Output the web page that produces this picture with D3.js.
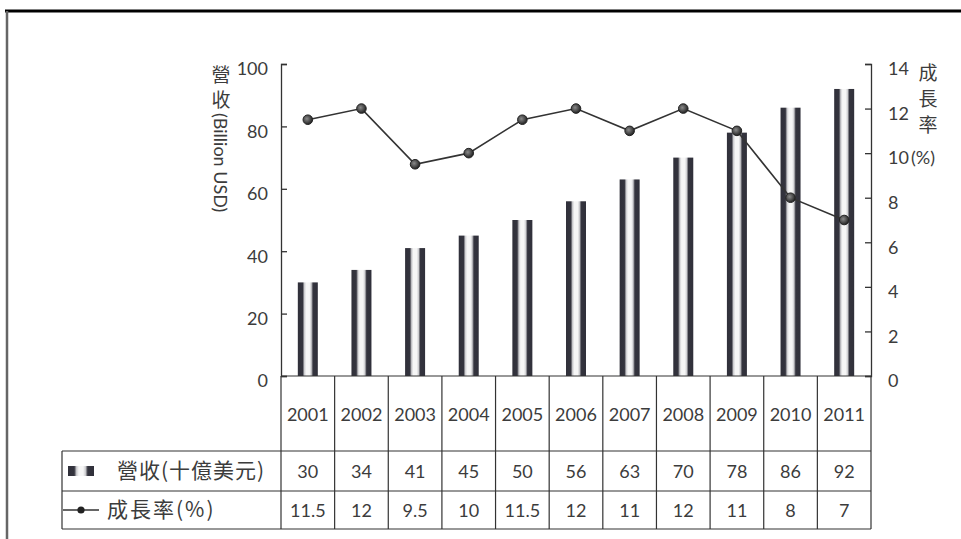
<!DOCTYPE html>
<html>
<head>
<meta charset="utf-8">
<script src="https://cdn.jsdelivr.net/npm/d3@7"></script>
<style>
  html, body { margin: 0; padding: 0; background: #fff; }
  svg { display: block; }
  text { font-family: Lato, "Noto Sans CJK TC", sans-serif; fill: #3c3c3c; }
  .cjk { font-family: "Noto Sans CJK TC", sans-serif; }
</style>
</head>
<body>
<svg id="chart" width="961" height="539"></svg>
<script>
// Annual revenue (billion USD) and growth rate (%), 2001–2011
const years = ["2001","2002","2003","2004","2005","2006","2007","2008","2009","2010","2011"];
const revenue = [30, 34, 41, 45, 50, 56, 63, 70, 78, 86, 92];
const growth = [11.5, 12, 9.5, 10, 11.5, 12, 11, 12, 11, 8, 7];
const revenueTicks = [0, 20, 40, 60, 80, 100];
const growthTicks = [0, 2, 4, 6, 8, 10, 12, 14];
const revenueLabel = "營收(十億美元)";
const growthLabel = "成長率(%)";

const svg = d3.select("#chart");
const ink = "#333";

// plot frame
const plotLeft = 281, plotRight = 871, plotTop = 64, plotBase = 376;
const rowYear = 451, rowRev = 491, rowBottom = 529, legendLeft = 62;

const x = d3.scaleBand().domain(years).range([plotLeft, plotRight]).paddingInner(0).paddingOuter(0);
const yRev = d3.scaleLinear().domain([0, 100]).range([plotBase, plotTop]);
const yGrowth = d3.scaleLinear().domain([0, 14]).range([plotBase, plotTop]);

// bar shading: two dark edge stripes around a pale centre
const defs = svg.append("defs");
const grad = defs.append("linearGradient").attr("id", "barShade")
  .attr("x1", 0).attr("x2", 1).attr("y1", 0).attr("y2", 0);
[[0, "#30303a"], [0.24, "#34343e"], [0.33, "#cfcfd2"], [0.42, "#f6f6f6"], [0.58, "#f6f6f6"],
 [0.67, "#cfcfd2"], [0.76, "#34343e"], [1, "#30303a"]]
  .forEach(([o, c]) => grad.append("stop").attr("offset", o).attr("stop-color", c));
const dot = defs.append("radialGradient").attr("id", "dotShade")
  .attr("cx", 0.4).attr("cy", 0.4).attr("r", 0.6);
dot.append("stop").attr("offset", 0).attr("stop-color", "#8a8a8a");
dot.append("stop").attr("offset", 1).attr("stop-color", "#222");

// page frame
svg.append("line").attr("x1", 5).attr("x2", 961).attr("y1", 11).attr("y2", 11)
  .attr("stroke", "#000").attr("stroke-width", 3);
svg.append("line").attr("x1", 7).attr("x2", 7).attr("y1", 11).attr("y2", 539)
  .attr("stroke", "#666").attr("stroke-width", 2.5);

// bars
const barW = 20;
svg.append("g").selectAll("rect").data(years).join("rect")
  .attr("x", (d) => x(d) + x.bandwidth() / 2 - barW / 2)
  .attr("y", (d, i) => yRev(revenue[i]))
  .attr("width", barW)
  .attr("height", (d, i) => plotBase - yRev(revenue[i]))
  .attr("fill", "url(#barShade)");

// axes
const axisL = svg.append("g").attr("transform", `translate(${plotLeft},0)`)
  .call(d3.axisLeft(yRev).tickValues(revenueTicks).tickSizeInner(-6).tickSizeOuter(-6).tickPadding(13));
const axisR = svg.append("g").attr("transform", `translate(${plotRight},0)`)
  .call(d3.axisRight(yGrowth).tickValues(growthTicks).tickSizeInner(-6).tickSizeOuter(-6).tickPadding(17));
[axisL, axisR].forEach((g) => {
  g.select(".domain").attr("stroke", ink).attr("stroke-width", 1.3);
  g.selectAll(".tick line").attr("stroke", ink).attr("stroke-width", 1.3);
  g.selectAll(".tick text").attr("font-size", 18).attr("fill", "#444")
    .attr("font-family", "Lato, sans-serif").attr("dy", "0.6em");
});

// growth line
const cx = (d) => x(d) + x.bandwidth() / 2;
svg.append("path")
  .datum(years)
  .attr("fill", "none").attr("stroke", ink).attr("stroke-width", 1.6)
  .attr("d", d3.line().x(cx).y((d, i) => yGrowth(growth[i])));
svg.append("g").selectAll("circle").data(years).join("circle")
  .attr("cx", cx).attr("cy", (d, i) => yGrowth(growth[i]))
  .attr("r", 4.8).attr("fill", "url(#dotShade)").attr("stroke", "#222").attr("stroke-width", 1);

// axis titles
const lt = svg.append("g");
[["營", 82], ["收", 107]].forEach(([c, yy]) =>
  lt.append("text").attr("class", "cjk").attr("x", 221).attr("y", yy)
    .attr("text-anchor", "middle").attr("font-size", 19).attr("fill", "#555").text(c));
lt.append("text").attr("transform", "translate(214,113) rotate(90)")
  .attr("font-size", 18).attr("fill", "#555").text("(Billion USD)");

const rt = svg.append("g");
[["成", 80], ["長", 106], ["率", 132]].forEach(([c, yy]) =>
  rt.append("text").attr("class", "cjk").attr("x", 928).attr("y", yy)
    .attr("text-anchor", "middle").attr("font-size", 19).attr("fill", "#555").text(c));
rt.append("text").attr("x", 911).attr("y", 164).attr("font-size", 18).attr("fill", "#555").text("(%)");

// data table
const grid = svg.append("g").attr("stroke", ink).attr("stroke-width", 1.2);
grid.append("line").attr("x1", plotLeft).attr("x2", plotRight).attr("y1", plotBase).attr("y2", plotBase);
[rowYear, rowRev, rowBottom].forEach((yy) =>
  grid.append("line").attr("x1", legendLeft).attr("x2", plotRight).attr("y1", yy).attr("y2", yy));
grid.append("line").attr("x1", legendLeft).attr("x2", legendLeft).attr("y1", rowYear).attr("y2", rowBottom);
[...years.map((d) => x(d)), plotRight].forEach((xx) =>
  grid.append("line").attr("x1", xx).attr("x2", xx).attr("y1", plotBase).attr("y2", rowBottom));

const cells = svg.append("g").attr("text-anchor", "middle").attr("font-size", 18);
cells.selectAll(".yr").data(years).join("text").attr("class", "yr")
  .attr("x", cx).attr("y", 421).text((d) => d);
cells.selectAll(".rv").data(years).join("text").attr("class", "rv")
  .attr("x", cx).attr("y", (rowYear + rowRev) / 2 + 7).text((d, i) => revenue[i]);
cells.selectAll(".gr").data(years).join("text").attr("class", "gr")
  .attr("x", cx).attr("y", (rowRev + rowBottom) / 2 + 7).text((d, i) => growth[i]);

// table legend
const revMid = (rowYear + rowRev) / 2, grMid = (rowRev + rowBottom) / 2;
svg.append("rect").attr("x", 68).attr("y", revMid - 5).attr("width", 26).attr("height", 10)
  .attr("fill", "url(#barShade)");
svg.append("line").attr("x1", 63).attr("x2", 99).attr("y1", grMid).attr("y2", grMid)
  .attr("stroke", ink).attr("stroke-width", 1.6);
svg.append("circle").attr("cx", 81).attr("cy", grMid).attr("r", 3.6).attr("fill", "#222");
svg.append("text").attr("class", "cjk").attr("x", 117).attr("y", revMid + 7)
  .attr("font-size", 21).attr("letter-spacing", 1).text(revenueLabel);
svg.append("text").attr("class", "cjk").attr("x", 107).attr("y", grMid + 7)
  .attr("font-size", 21).attr("letter-spacing", 2).text(growthLabel);
</script>
</body>
</html>
